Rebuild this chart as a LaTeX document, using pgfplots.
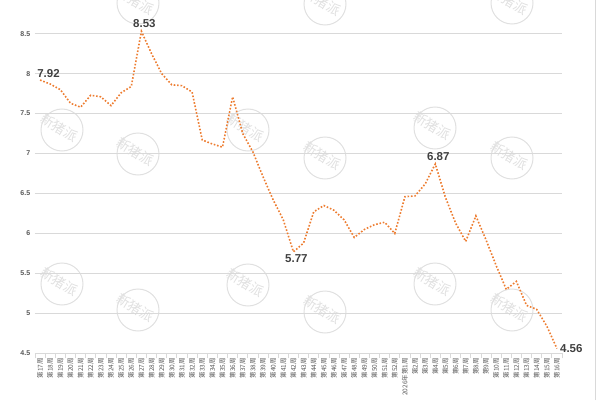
\documentclass[border=0pt]{standalone}
\usepackage{pgfplots}
\pgfplotsset{compat=1.18}
\usepackage{fontspec}
\setmainfont{Liberation Sans}
\newfontfamily\cjk{Noto Sans CJK SC}
\definecolor{lineor}{HTML}{ED7D31}
\definecolor{lblgray}{HTML}{595959}
\definecolor{dlgray}{HTML}{404040}
\definecolor{gridgray}{HTML}{D9D9D9}
\definecolor{wmgray}{HTML}{E0E0E0}
\begin{document}
\begin{tikzpicture}
\useasboundingbox (-35pt,-46.7pt) rectangle (565pt,353.3pt);
% watermarks
\foreach \px/\py in {62/130,248/130,435/128,62/284,248/285,435/284,138/3,325/4,512/3,138/154,325/158,512/158,138/310,325/312,512/310}{
  \draw[wmgray, line width=1pt] ({\px pt-35pt},{353.3pt-\py pt}) circle (21pt);
  \node[text=wmgray, rotate=-32, inner sep=0pt, font=\cjk\fontsize{13.5}{13.5}\selectfont] at ({\px pt-38pt},{355.3pt-\py pt}) {新猪派};
}
\draw[gridgray, line width=0.8pt] (560pt,-46.7pt) -- (560pt,353.3pt);
\begin{axis}[
 at={(0pt,0pt)}, anchor=south west,
 scale only axis, width=527pt, height=319.6pt,
 xmin=-0.5, xmax=51.5, ymin=4.5, ymax=8.5,
 clip=false,
 axis line style={draw=none},
 ytick={4.5,5,5.5,6,6.5,7,7.5,8,8.5},
 ymajorgrids, grid style={gridgray, line width=0.8pt},
 ytick style={draw=none},
 major x tick style={draw=none},
 minor x tick style={gridgray, line width=0.8pt},
 minor xtick={-0.5,0.5,...,51.5},
 major tick length=1.3pt,
 minor tick length=5pt,
 tick align=outside,
 xtick pos=left,
 /pgf/number format/assume math mode=true,
 yticklabel style={font=\bfseries\fontsize{7}{8}\selectfont, text=lblgray},
 xtick={0,...,51},
 xticklabels={第17周,第18周,第19周,第20周,第21周,第22周,第23周,第24周,第25周,第26周,第27周,第28周,第29周,第30周,第31周,第32周,第33周,第34周,第35周,第36周,第37周,第38周,第39周,第40周,第41周,第42周,第43周,第44周,第45周,第46周,第47周,第48周,第49周,第50周,第51周,第52周,2026年第1周,第2周,第3周,第4周,第5周,第6周,第7周,第8周,第9周,第10周,第11周,第12周,第13周,第14周,第15周,第16周},
 xticklabel style={font=\cjk\fontsize{6.5}{7}\selectfont, text=lblgray, rotate=90, anchor=east},
]
\addplot[lineor, line width=1.6pt, dash pattern=on 1.6pt off 1.8pt] coordinates {
(0,7.92) (1,7.87) (2,7.80) (3,7.63) (4,7.58) (5,7.73) (6,7.71) (7,7.60) (8,7.76) (9,7.84)
(10,8.53) (11,8.25) (12,8.00) (13,7.86) (14,7.85) (15,7.77) (16,7.17) (17,7.12) (18,7.08) (19,7.71)
(20,7.25) (21,7.02) (22,6.71) (23,6.42) (24,6.17) (25,5.77) (26,5.88) (27,6.27) (28,6.35) (29,6.29)
(30,6.17) (31,5.95) (32,6.05) (33,6.11) (34,6.14) (35,6.00) (36,6.46) (37,6.47) (38,6.62) (39,6.87)
(40,6.45) (41,6.13) (42,5.90) (43,6.22) (44,5.92) (45,5.60) (46,5.30) (47,5.40) (48,5.10) (49,5.05)
(50,4.84) (51,4.56)
};
\tikzset{dl/.style={font=\bfseries\fontsize{11.5}{12}\selectfont, text=dlgray, inner sep=1pt}}
\node[dl, anchor=south west, xshift=-4pt, yshift=1pt] at (axis cs:0,7.92) {7.92};
\node[dl, anchor=south, xshift=3pt, yshift=2pt] at (axis cs:10,8.53) {8.53};
\node[dl, anchor=north, xshift=3pt, yshift=-2pt] at (axis cs:25,5.77) {5.77};
\node[dl, anchor=south, xshift=3pt, yshift=2pt] at (axis cs:39,6.87) {6.87};
\node[dl, anchor=west, xshift=2pt] at (axis cs:51,4.56) {4.56};
\end{axis}
\end{tikzpicture}
\end{document}
